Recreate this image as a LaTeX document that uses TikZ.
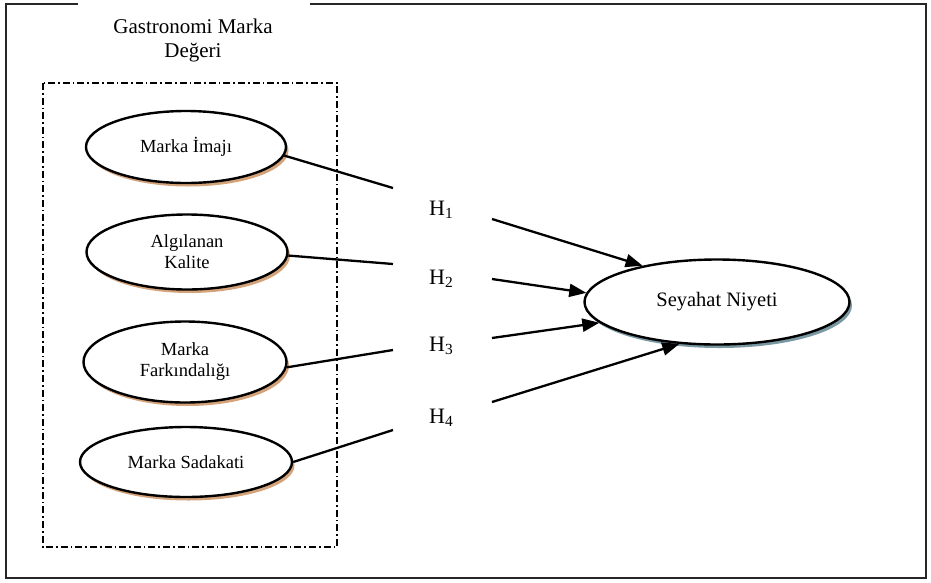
\documentclass[tikz,border=0pt]{standalone}
\usepackage{fontspec}
\setmainfont{Liberation Serif}
\usetikzlibrary{arrows.meta,shapes.geometric,shadows}
\definecolor{tanshadow}{RGB}{212,163,122}
\definecolor{blueshadow}{RGB}{122,152,162}
\begin{document}
\begin{tikzpicture}[x=1pt,y=-1pt,
  framebox/.style={draw=black!85,line width=2pt},
  groupbox/.style={draw=black,line width=1.5pt,dash pattern=on 7pt off 3pt on 1.6pt off 3pt},
  construct/.style={ellipse,draw=black,line width=2.4pt,fill=white,inner sep=0pt,align=center,
    font=\fontsize{18.5}{21}\selectfont,
    drop shadow={shadow xshift=2.5pt,shadow yshift=-3.5pt,fill=tanshadow,opacity=1}},
  target/.style={ellipse,draw=black,line width=2.4pt,fill=white,inner sep=0pt,align=center,
    font=\fontsize{20.5}{24}\selectfont,
    drop shadow={shadow xshift=2.5pt,shadow yshift=-3.5pt,fill=blueshadow,opacity=1}},
  hyp/.style={inner sep=0pt,font=\fontsize{22}{26}\selectfont},
  titletext/.style={align=center,inner sep=0pt,font=\fontsize{21}{24}\selectfont},
  link/.style={line width=2.3pt},
  arrowlink/.style={link,-{Triangle[length=17pt,width=13pt]}}
]
\useasboundingbox (0,0) rectangle (931,582);
\fill[white] (0,0) rectangle (931,582);

% outer frame with gap for the title
\draw[framebox] (78,4) -- (6,4) -- (6,578) -- (926,578) -- (926,4) -- (310,4);

% title
\node[titletext] (title) at (193,40) {Gastronomi Marka\\Değeri};

% group box
\draw[groupbox] (43,83) rectangle (337,547);

% constructs
\node[construct, minimum width=200pt, minimum height=72pt] (e1) at (186,147) {Marka İmajı};
\node[construct, minimum width=201pt, minimum height=75pt] (e2) at (187,252) {Algılanan\\Kalite};
\node[construct, minimum width=203pt, minimum height=81pt] (e3) at (185,362) {Marka\\Farkındalığı};
\node[construct, minimum width=212pt, minimum height=70pt] (e4) at (186,462) {Marka Sadakati};

\node[target, minimum width=265pt, minimum height=85pt] (sn) at (717,302) {\raisebox{5pt}{Seyahat Niyeti}};

% hypothesis labels
\node[hyp, anchor=base west] (h1) at (429,215) {H\textsubscript{1}};
\node[hyp, anchor=base west] (h2) at (429,284) {H\textsubscript{2}};
\node[hyp, anchor=base west] (h3) at (429,351) {H\textsubscript{3}};
\node[hyp, anchor=base west] (h4) at (429,423) {H\textsubscript{4}};

% connector ends
\coordinate (c1) at (393,188);
\coordinate (c2) at (393,264);
\coordinate (c3) at (393,350);
\coordinate (c4) at (393,430);
\coordinate (a1) at (492,219);
\coordinate (a2) at (492,279);
\coordinate (a3) at (492,338);
\coordinate (a4) at (492,402);

\draw[link] (e1.-5) -- (c1);
\draw[link] (e2.-2) -- (c2);
\draw[link] (e3.-3) -- (c3);
\draw[link] (e4.east) -- (c4);

\draw[arrowlink] (a1) -- (sn.154);
\draw[arrowlink] (a2) -- (sn.176);
\draw[arrowlink] (a3) -- (sn.190);
\draw[arrowlink] (a4) -- (sn.228);
\end{tikzpicture}
\end{document}
